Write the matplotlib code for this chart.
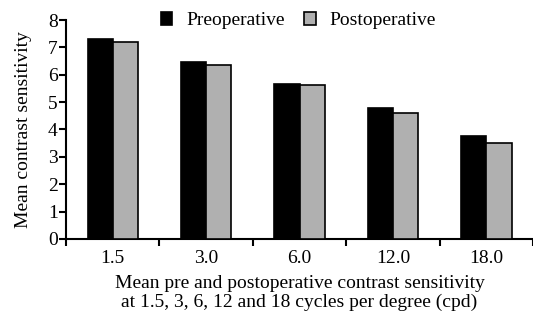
import matplotlib
matplotlib.use("Agg")
import matplotlib.pyplot as plt
import numpy as np

CATEGORIES = ["1.5", "3.0", "6.0", "12.0", "18.0"]
PREOPERATIVE = [7.29, 6.47, 5.68, 4.79, 3.77]
POSTOPERATIVE = [7.19, 6.34, 5.61, 4.59, 3.51]

plt.rcParams["font.family"] = ["Liberation Serif", "DejaVu Serif"]
plt.rcParams["font.size"] = 14

fig = plt.figure(figsize=(5.33, 3.16), dpi=100)
ax = fig.add_axes([0.124, 0.2437, 0.876, 0.693])

x = np.arange(len(CATEGORIES))
width = 0.27
ax.bar(x - width, PREOPERATIVE, width, align="edge", color="black",
       edgecolor="black", linewidth=1.2, label="Preoperative", zorder=3)
ax.bar(x, POSTOPERATIVE, width, align="edge", color="#b0b0b0",
       edgecolor="black", linewidth=1.2, label="Postoperative", zorder=3)

ax.set_xlim(-0.5, len(CATEGORIES) - 0.5)
ax.set_ylim(0, 8)
ax.set_yticks(range(0, 9))
ax.set_xticks(x)
ax.set_xticklabels(CATEGORIES)
ax.tick_params(axis="x", length=0, pad=8)
ax.set_xticks(np.arange(-0.5, len(CATEGORIES)), minor=True)
ax.tick_params(axis="x", which="minor", length=5, width=1.5, direction="out")
ax.tick_params(axis="y", length=5, width=1.5, direction="out", pad=1)

for side in ["top", "right"]:
    ax.spines[side].set_visible(False)
for side in ["left", "bottom"]:
    ax.spines[side].set_linewidth(1.5)

ax.set_ylabel("Mean contrast sensitivity")
ax.yaxis.set_label_coords(-0.073, 0.5)
ax.set_xlabel("Mean pre and postoperative contrast sensitivity\n"
              "at 1.5, 3, 6, 12 and 18 cycles per degree (cpd)",
              linespacing=1.1, labelpad=6)

ax.legend(loc="upper center", bbox_to_anchor=(0.497, 1.07), ncol=2,
          frameon=False, handlelength=0.6, handleheight=0.6,
          handletextpad=0.7, columnspacing=1.0, borderaxespad=0)

fig.savefig("out.png", dpi=100)
